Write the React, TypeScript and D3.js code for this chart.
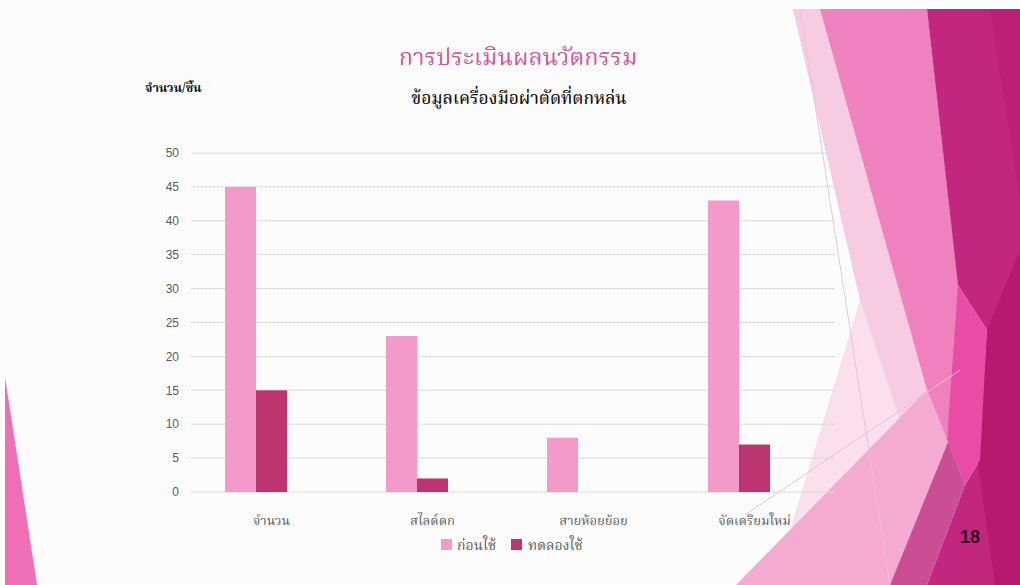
import React from "react";
import * as d3 from "d3";

const categories = ["จำนวน", "สไลด์ตก", "สายห้อยย้อย", "จัดเตรียมใหม่"];
const seriesNames = ["ก่อนใช้", "ทดลองใช้", ""];
const beforeValues = [45, 23, 8, 43];
const trialValues = [15, 2, 0, 7];
const emptyValues: (number | null)[] = [null, null, null, null];
const yTicks = [0, 5, 10, 15, 20, 25, 30, 35, 40, 45, 50];
const seriesColors = ["#f49ac9", "#bc3470", "none"];

const W = 1020;
const H = 585;
const THAI = "'Noto Serif Thai', 'Noto Sans Thai', 'Tlwg Typo', Garuda, Loma, Norasi, serif";

export default function App() {
  const left = 191, right = 835, top = 153, bottom = 492;
  const x0 = d3.scaleBand<string>().domain(categories).range([left, right]).padding(0);
  const bw = x0.bandwidth();
  const groupW = (bw / (3 + 2.19)) * 3;
  const x1 = d3
    .scaleBand<string>()
    .domain(["s0", "s1", "s2"])
    .range([(bw - groupW) / 2, (bw + groupW) / 2])
    .padding(0);
  const y = d3.scaleLinear().domain([0, 50]).range([bottom, top]);
  const allSeries = [beforeValues, trialValues, emptyValues];

  const poly = (pts: [number, number][]) => d3.line()(pts) + "Z";

  return (
    <svg width={W} height={H} style={{ position: "absolute", left: 0, top: 0 }}>
      <defs>
        <pattern id="dots" width="4" height="4" patternUnits="userSpaceOnUse">
          <rect width="4" height="4" fill="#ffffff" />
          <rect x="1" y="1" width="1" height="1" fill="#f3e4ec" />
        </pattern>
      </defs>
      <rect width={W} height={H} fill="url(#dots)" />

      {/* decorative facets */}
      <g>
        <path d={poly([[793, 9], [1020, 9], [1020, 585], [773, 585], [790, 530], [860, 300]])} fill="#fadfec" />
        <path d={poly([[793, 9], [820, 9], [927, 390], [900, 420], [860, 300]])} fill="#f7cbe1" />
        <path d={poly([[820, 9], [927, 9], [960, 300], [947, 440], [927, 390]])} fill="#ef82be" />
        <path d={poly([[927, 9], [1020, 9], [1020, 585], [927, 585], [965, 485], [980, 460], [987, 330], [958, 285]])} fill="#c2267e" />
        <path d={poly([[990, 9], [1020, 9], [1020, 200]])} fill="#bd1f78" />
        <path d={poly([[1020, 250], [1020, 585], [995, 585], [978, 465], [987, 330]])} fill="#b8186e" />
        <path d={poly([[958, 285], [987, 330], [980, 460], [965, 485], [947, 440]])} fill="#e94ba6" />
        <path d={poly([[736, 585], [927, 390], [948, 442], [890, 585]])} fill="#f4aad1" />
        <path d={poly([[890, 585], [948, 442], [965, 485], [927, 585]])} fill="#cb4e95" />
        <line x1={800} y1={9} x2={890} y2={585} stroke="#ecc0d6" strokeWidth={1} />
        <line x1={745} y1={515} x2={960} y2={370} stroke="#ecc0d6" strokeWidth={1} />
        <path d={poly([[5, 377], [5, 585], [37, 585]])} fill="#ee6fb5" />
      </g>

      {/* gridlines */}
      {yTicks.map((t) => (
        <line key={t} x1={left} x2={right} y1={y(t)} y2={y(t)} stroke="#d9d9d9" strokeWidth={1} />
      ))}
      {yTicks.map((t) => (
        <text key={"l" + t} x={179} y={y(t)} dy="0.35em" textAnchor="end" fontSize={12}
          fontFamily="'Liberation Sans', Arial, sans-serif" fill="#595959">{t}</text>
      ))}

      {/* bars */}
      {allSeries.map((vals, si) =>
        vals.map((v, ci) =>
          v == null ? null : (
            <rect key={si + "-" + ci}
              x={(x0(categories[ci]) as number) + (x1("s" + si) as number)}
              y={y(v)} width={x1.bandwidth()} height={y(0) - y(v)} fill={seriesColors[si]} />
          )
        )
      )}

      {/* x labels */}
      {categories.map((c) => (
        <text key={c} x={(x0(c) as number) + bw / 2} y={520} dy="0.35em" textAnchor="middle"
          fontSize={13} fontFamily={THAI} fill="#595959">{c}</text>
      ))}

      {/* legend */}
      <g>
        <rect x={441} y={539} width={11} height={11} fill={seriesColors[0]} />
        <text x={457} y={545} dy="0.35em" fontSize={14} fontFamily={THAI} fill="#595959">{seriesNames[0]}</text>
        <rect x={511} y={539} width={11} height={11} fill={seriesColors[1]} />
        <text x={528} y={545} dy="0.35em" fontSize={14} fontFamily={THAI} fill="#595959">{seriesNames[1]}</text>
      </g>

      {/* titles */}
      <text x={518} y={57} dy="0.35em" textAnchor="middle" fontSize={23.5} fontFamily={THAI} fill="#d4569e">การประเมินผลนวัตกรรม</text>
      <text x={519} y={98} dy="0.35em" textAnchor="middle" fontSize={17.2} fontWeight={500} fontFamily={THAI} fill="#111">ข้อมูลเครื่องมือผ่าตัดที่ตกหล่น</text>
      <text x={145} y={88} dy="0.35em" fontSize={12.5} fontWeight="bold" fontFamily={THAI} fill="#111">จำนวน/ชิ้น</text>

      <text x={970} y={537} dy="0.35em" textAnchor="middle" fontSize={18} fontWeight="bold" fontFamily="'Liberation Sans', Arial, sans-serif" fill="#2b1020">18</text>
    </svg>
  );
}
